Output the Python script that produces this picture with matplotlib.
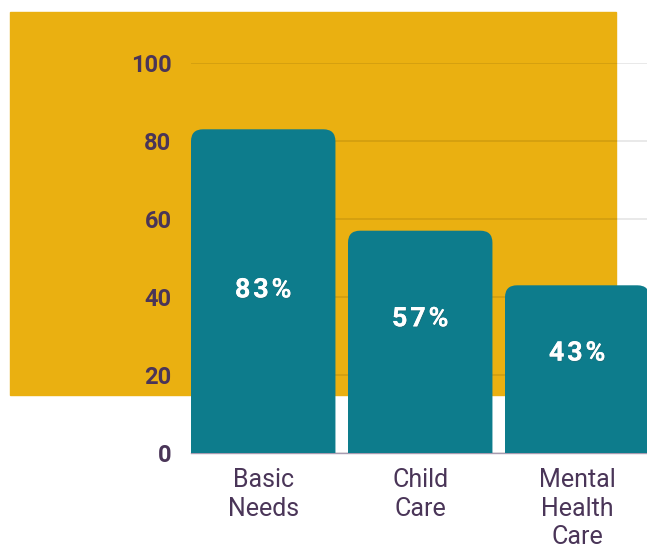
import matplotlib.pyplot as plt
from matplotlib.patches import FancyBboxPatch, Rectangle
import matplotlib.patheffects as pe

categories = ["Basic\nNeeds", "Child\nCare", "Mental\nHealth\nCare"]
values = [83, 57, 43]
labels = ["83%", "57%", "43%"]
label_y = [41.8, 34.4, 25.6]
yticks = [0, 20, 40, 60, 80, 100]

W, H = 647, 548
teal = "#0D7C8C"
yellow = "#EAB011"
purple = "#4A3558"

plt.rcParams["font.family"] = ["Roboto", "DejaVu Sans"]

fig = plt.figure(figsize=(W / 100, H / 100), dpi=100)

# yellow block behind the plot
bg = fig.add_axes([0, 0, 1, 1], zorder=-1)
bg.axis("off")
bg.set_xlim(0, W)
bg.set_ylim(H, 0)
bg.add_patch(Rectangle((10, 12), 606, 383, color=yellow))

left, bottom = 191, 453
step = 157
top = 63
ax = fig.add_axes([left / W, 1 - bottom / H, 3 * step / W, (bottom - top) / H])
ax.set_facecolor("none")
ax.set_xlim(-0.46, 2.54)
ax.set_ylim(0, 100)

xu = 1 / step
yu = 100 / (bottom - top)
r = 12
for i, v in enumerate(values):
    box = FancyBboxPatch((i - 0.46, -8), 0.92, v + 8,
                         boxstyle=f"round,pad=0,rounding_size={r * xu}",
                         mutation_aspect=yu / xu, facecolor=teal,
                         edgecolor="none", zorder=3, clip_on=True)
    ax.add_patch(box)
    # hair spaces give the slight letter spacing of the original
    ax.text(i, label_y[i], "\u200a".join(labels[i]),
            ha="center", va="center", color="white", fontsize=19.5,
            fontweight="bold", zorder=4,
            path_effects=[pe.withSimplePatchShadow(offset=(0.5, -0.8), alpha=0.25),
                          pe.Normal()])

ax.set_yticks(yticks)
ax.set_yticklabels([str(t) for t in yticks], fontsize=17, fontweight="bold",
                   color=purple)
ax.set_xticks(range(len(categories)))
ax.set_xticklabels(categories, fontsize=18, color=purple, linespacing=1.24)
ax.tick_params(axis="y", length=0, pad=14)
ax.tick_params(axis="x", length=0, pad=11)
ax.grid(axis="y", color="black", alpha=0.1, linewidth=1.2, zorder=1)
for s in ["top", "right", "left"]:
    ax.spines[s].set_visible(False)
ax.spines["bottom"].set_color("#A79BB0")
ax.spines["bottom"].set_linewidth(1)
ax.spines["bottom"].set_zorder(2)

fig.savefig("out.png", dpi=100)
